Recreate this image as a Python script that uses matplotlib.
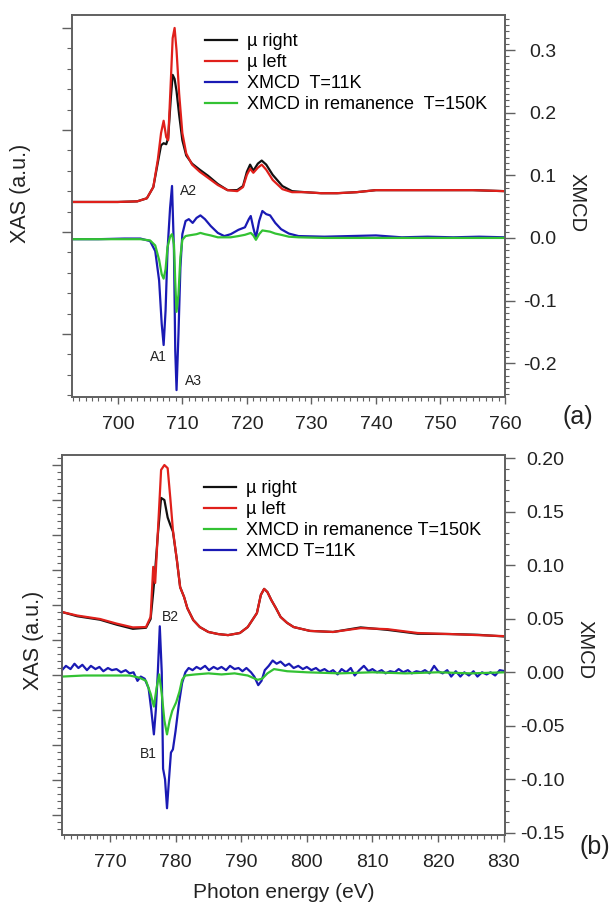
import numpy as np
import matplotlib
matplotlib.use("Agg")
import matplotlib.pyplot as plt
from matplotlib.ticker import MultipleLocator

plt.rcParams['font.family'] = ['Liberation Sans', 'DejaVu Sans']

# ---------------- panel (a): Fe L-edge ----------------
e_xas_a = [692.9, 700, 703, 704.5, 705.5, 706.2, 706.7, 707.1, 707.5, 707.8, 708.2, 708.5,
           708.8, 709.1, 709.5, 710.0, 710.6, 711.5, 712.7, 714, 715.5, 717, 718.5, 719.4,
           720.0, 720.5, 721.0, 721.7, 722.3, 723.0, 724, 725.5, 727, 729, 731.5, 734, 737,
           740, 745, 750, 755, 760]
mu_left_a = [0.294, 0.294, 0.30, 0.33, 0.44, 0.71, 0.97, 1.09, 0.93, 0.90, 1.46, 1.90,
             2.00, 1.78, 1.36, 0.97, 0.77, 0.66, 0.59, 0.53, 0.46, 0.41, 0.40, 0.44,
             0.56, 0.62, 0.58, 0.63, 0.66, 0.61, 0.51, 0.42, 0.39, 0.39, 0.38, 0.38, 0.39,
             0.41, 0.41, 0.41, 0.41, 0.40]
mu_right_a = [0.294, 0.294, 0.30, 0.33, 0.44, 0.68, 0.85, 0.87, 0.86, 0.92, 1.30, 1.54,
              1.50, 1.38, 1.15, 0.90, 0.75, 0.67, 0.61, 0.55, 0.47, 0.41, 0.41, 0.45,
              0.59, 0.66, 0.60, 0.67, 0.70, 0.66, 0.56, 0.45, 0.40, 0.39, 0.38, 0.38, 0.39,
              0.41, 0.41, 0.41, 0.41, 0.40]

e_mcd_a = [692.9, 697, 701, 703.5, 705, 705.8, 706.4, 706.8, 707.1, 707.4, 707.7, 708.1,
           708.4, 708.7, 708.9, 709.1, 709.4, 709.7, 710.0, 710.5, 711.0, 711.6, 712.2,
           712.8, 713.5, 714.4, 715.5, 716.5, 717.5, 718.7, 719.7, 720.3, 720.6, 721.0,
           721.4, 721.9, 722.4, 723.0, 723.6, 724.4, 725.3, 726.5, 728, 732, 736, 740,
           744, 748, 752, 756, 760]
xmcd_11k_a = [-0.002, -0.002, -0.001, -0.001, -0.005, -0.021, -0.068, -0.137, -0.171, -0.116,
              -0.020, 0.048, 0.083, -0.021, -0.180, -0.243, -0.153, -0.047, 0.006, 0.027,
              0.030, 0.024, 0.032, 0.036, 0.030, 0.019, 0.008, 0.003, 0.006, 0.013, 0.017,
              0.030, 0.035, 0.016, 0.000, 0.027, 0.043, 0.038, 0.036, 0.024, 0.014, 0.007,
              0.003, 0.002, 0.003, 0.004, 0.001, 0.002, 0.001, 0.002, 0.001]
xmcd_rem_a = [-0.002, -0.002, -0.002, -0.002, -0.004, -0.012, -0.035, -0.058, -0.065, -0.050,
              -0.015, 0.002, 0.006, -0.010, -0.070, -0.118, -0.090, -0.030, -0.003, 0.003,
              0.004, 0.005, 0.006, 0.008, 0.006, 0.004, 0.001, 0.001, 0.001, 0.003, 0.005,
              0.007, 0.008, 0.004, -0.003, 0.006, 0.012, 0.011, 0.010, 0.007, 0.005, 0.002,
              0.001, 0.000, 0.000, 0.000, 0.000, 0.000, 0.000, 0.000, 0.000]

# ---------------- panel (b): Co L-edge ----------------
e_xas_b = [762.7, 765, 768.5, 771, 773.5, 775.5, 776.2, 776.6, 776.9, 777.3, 777.8, 778.3,
           778.8, 779.2, 779.6, 780.2, 780.7, 781.3, 781.8, 782.7, 783.7, 785, 786.5, 788,
           789.8, 791, 792.4, 793.0, 793.5, 794.0, 794.6, 795.3, 796, 797, 798, 800.5, 804,
           808.2, 812.3, 816.9, 821.9, 826, 830.2]
mu_left_b = [1.80, 1.70, 1.60, 1.47, 1.36, 1.37, 1.66, 3.09, 2.63, 4.06, 5.86, 6.00,
             5.91, 5.06, 4.14, 3.29, 2.51, 2.23, 1.91, 1.57, 1.37, 1.23, 1.17, 1.14,
             1.20, 1.37, 1.77, 2.29, 2.46, 2.37, 2.14, 1.91, 1.66, 1.49, 1.37, 1.26, 1.23,
             1.34, 1.31, 1.20, 1.17, 1.14, 1.11]
mu_right_b = [1.80, 1.68, 1.58, 1.44, 1.32, 1.35, 1.60, 2.37, 3.00, 4.00, 5.06, 5.00,
              4.50, 4.29, 4.10, 3.29, 2.51, 2.23, 1.91, 1.57, 1.37, 1.23, 1.17, 1.14,
              1.20, 1.37, 1.77, 2.29, 2.46, 2.37, 2.14, 1.91, 1.66, 1.49, 1.37, 1.26, 1.23,
              1.36, 1.29, 1.18, 1.17, 1.15, 1.10]

e_11k_b = [762.7, 763.3, 764, 764.6, 765.2, 765.8, 766.5, 767.1, 767.8, 768.4, 769, 769.7,
           770.3, 771, 771.7, 772.4, 773, 773.6, 774.2, 774.7, 775.3, 775.9, 776.3, 776.7,
           777.0, 777.3, 777.6, 777.9, 778.1, 778.4, 778.7, 779.0, 779.3, 779.6, 780.0,
           780.5, 781.0, 781.5, 782, 782.6, 783.2, 783.8, 784.5, 785.1, 785.8, 786.4, 787,
           787.7, 788.3, 789, 789.6, 790.2, 790.8, 791.5, 792.0, 792.6, 793.1, 793.6, 794.2,
           794.8, 795.4, 796, 796.7, 797.3, 798, 798.7, 799.4, 800, 800.7, 801.4, 802, 802.7,
           803.4, 804, 804.7, 805.3, 806, 806.7, 807.3, 808, 808.7, 809.4, 810, 810.7, 811.4,
           812, 812.7, 813.4, 814, 814.7, 815.4, 816, 816.7, 817.4, 818, 818.7, 819.4, 820,
           820.7, 821.4, 822, 822.7, 823.4, 824, 824.7, 825.4, 826, 826.7, 827.4, 828,
           828.7, 829.4, 830.2]
xmcd_11k_b = [0.002, 0.006, 0.003, 0.008, 0.004, 0.007, 0.002, 0.006, 0.003, 0.005, 0.001,
              0.004, 0.002, 0.003, 0.000, 0.002, -0.001, 0.000, -0.008, -0.004, -0.006,
              -0.015, -0.035, -0.058, -0.035, 0.000, 0.043, 0.000, -0.090, -0.100, -0.127,
              -0.100, -0.075, -0.072, -0.055, -0.030, -0.010, 0.000, 0.004, 0.002, 0.005,
              0.003, 0.006, 0.002, 0.005, 0.003, 0.005, 0.002, 0.006, 0.003, 0.004, 0.001,
              0.004, 0.000, -0.004, -0.012, -0.008, 0.002, 0.006, 0.011, 0.008, 0.010, 0.006,
              0.008, 0.004, 0.006, 0.003, 0.005, 0.002, 0.004, 0.001, 0.003, 0.000, 0.002,
              -0.002, 0.003, 0.000, 0.004, -0.003, 0.002, 0.006, 0.001, 0.003, 0.000, 0.002,
              -0.001, 0.001, 0.000, 0.003, 0.000, 0.002, -0.001, 0.001, 0.000, 0.002, -0.001,
              0.006, 0.001, -0.001, 0.002, -0.004, 0.001, -0.004, 0.000, -0.003, 0.001,
              -0.004, 0.000, -0.002, 0.000, -0.003, 0.002, 0.001]

e_rem_b = [762.7, 766, 770, 773, 774.5, 775.5, 776.2, 776.7, 777.1, 777.5, 777.9, 778.3,
           778.7, 779.1, 779.5, 780.1, 780.6, 781.0, 781.5, 783, 785, 787, 789, 791, 792.5,
           793.2, 794, 795, 797, 800, 805, 810, 815, 820, 825, 830.2]
xmcd_rem_b = [-0.004, -0.003, -0.003, -0.003, -0.005, -0.008, -0.020, -0.032, -0.015, -0.002,
              -0.020, -0.045, -0.058, -0.045, -0.036, -0.028, -0.018, -0.007, -0.003, -0.002,
              -0.001, -0.002, -0.001, -0.003, -0.007, -0.006, -0.001, 0.003, 0.001, 0.000,
              -0.001, 0.000, -0.001, 0.000, -0.001, 0.000]

BLACK = '#111111'
RED = '#e0201b'
BLUE = '#1a1ab4'
GREEN = '#33c233'
FRAME = '#606060'
LW = 1.6

fig = plt.figure(figsize=(6.13, 9.02), dpi=100)
W, H = 613.0, 902.0


def style_panel(ax, ax2, xlim, ylim_l, ylim_r, rmaj, rmin, rpad):
    ax.set_xlim(*xlim)
    ax.set_ylim(*ylim_l)
    ax2.set_ylim(*ylim_r)
    for a in (ax, ax2):
        for sp in a.spines.values():
            sp.set_color(FRAME)
            sp.set_linewidth(1.2)
    ax.xaxis.set_major_locator(MultipleLocator(10))
    ax.xaxis.set_minor_locator(MultipleLocator(1))
    ax.yaxis.set_major_locator(MultipleLocator(1))
    ax.yaxis.set_minor_locator(MultipleLocator(0.2))
    ax.tick_params(axis='x', which='major', direction='out', length=5, width=1,
                   color=FRAME, labelsize=14, labelcolor='#222222', pad=9)
    ax.tick_params(axis='x', which='minor', direction='out', length=3, width=0.8, color=FRAME)
    ax.tick_params(axis='y', which='major', direction='out', length=7, width=1,
                   color=FRAME, labelleft=False)
    ax.tick_params(axis='y', which='minor', direction='out', length=3.5, width=0.8,
                   color=FRAME)
    ax2.yaxis.set_major_locator(MultipleLocator(rmaj))
    ax2.yaxis.set_minor_locator(MultipleLocator(rmin))
    ax2.tick_params(axis='y', which='major', direction='out', length=7, width=1,
                    color=FRAME, labelsize=14, labelcolor='#222222', pad=rpad)
    ax2.tick_params(axis='y', which='minor', direction='out', length=3, width=0.8,
                    color=FRAME)


leg_kw = dict(loc='upper left', frameon=False, fontsize=13, handlelength=1.8,
              handletextpad=0.55, labelspacing=0.22, borderpad=0, borderaxespad=0)

# panel (a)
ax_a = fig.add_axes([72 / W, 1 - 397 / H, 433 / W, 382 / H])
ax_a2 = ax_a.twinx()
l1, = ax_a.plot(e_xas_a, mu_right_a, color=BLACK, lw=LW, label='µ right')
l2, = ax_a.plot(e_xas_a, mu_left_a, color=RED, lw=LW, label='µ left')
l3, = ax_a2.plot(e_mcd_a, xmcd_11k_a, color=BLUE, lw=LW, label='XMCD  T=11K')
l4, = ax_a2.plot(e_mcd_a, xmcd_rem_a, color=GREEN, lw=LW, label='XMCD in remanence  T=150K')
style_panel(ax_a, ax_a2, (692.9, 760), (-1.618, 2.127), (-0.254, 0.356), 0.1, 0.01, 30)
ax_a2.set_yticks([-0.2, -0.1, 0.0, 0.1, 0.2, 0.3])
ax_a2.set_yticklabels(['-0.2', '-0.1', '0.0', '0.1', '0.2', '0.3'])
plt.setp(ax_a2.get_yticklabels(), ha='right')
ax_a2.legend(handles=[l1, l2, l3, l4], bbox_to_anchor=(0.307, 0.952), **leg_kw)
ax_a2.text(709.6, 0.075, 'A2', fontsize=10, color='#222222', va='center')
ax_a2.text(704.95, -0.19, 'A1', fontsize=10, color='#222222', va='center')
ax_a2.text(710.4, -0.229, 'A3', fontsize=10, color='#222222', va='center')

# panel (b)
ax_b = fig.add_axes([62 / W, 1 - 835 / H, 443 / W, 380 / H])
ax_b2 = ax_b.twinx()
m1, = ax_b.plot(e_xas_b, mu_right_b, color=BLACK, lw=LW, label='µ right')
m2, = ax_b.plot(e_xas_b, mu_left_b, color=RED, lw=LW, label='µ left')
m4, = ax_b2.plot(e_11k_b, xmcd_11k_b, color=BLUE, lw=LW, label='XMCD T=11K')
m3, = ax_b2.plot(e_rem_b, xmcd_rem_b, color=GREEN, lw=LW, label='XMCD in remanence T=150K')
style_panel(ax_b, ax_b2, (762.7, 830.2), (-4.571, 6.286), (-0.152, 0.203), 0.05, 0.01, 36)
ax_b2.set_yticks([-0.15, -0.10, -0.05, 0.0, 0.05, 0.10, 0.15, 0.20])
ax_b2.set_yticklabels(['-0.15', '-0.10', '-0.05', '0.00', '0.05', '0.10', '0.15', '0.20'])
plt.setp(ax_b2.get_yticklabels(), ha='right')
ax_b2.legend(handles=[m1, m2, m3, m4], bbox_to_anchor=(0.32, 0.934), **leg_kw)
ax_b2.text(777.9, 0.052, 'B2', fontsize=10, color='#222222', va='center')
ax_b2.text(774.6, -0.076, 'B1', fontsize=10, color='#222222', va='center')

ax_b.set_xlabel('Photon energy (eV)', fontsize=15, color='#222222', labelpad=8)

# axis titles and panel letters
fig.text(21 / W, 1 - 193 / H, 'XAS (a.u.)', rotation=90, fontsize=15.5, color='#222222',
         ha='center', va='center')
fig.text(33 / W, 1 - 640 / H, 'XAS (a.u.)', rotation=90, fontsize=15.5, color='#222222',
         ha='center', va='center')
fig.text(577 / W, 1 - 203 / H, 'XMCD', rotation=270, fontsize=14.5, color='#222222',
         ha='center', va='center')
fig.text(585 / W, 1 - 650 / H, 'XMCD', rotation=270, fontsize=14.5, color='#222222',
         ha='center', va='center')
fig.text(578 / W, 1 - 417 / H, '(a)', fontsize=18, color='#222222', ha='center', va='center')
fig.text(595 / W, 1 - 847 / H, '(b)', fontsize=18, color='#222222', ha='center', va='center')

fig.savefig('out.png', dpi=100)
